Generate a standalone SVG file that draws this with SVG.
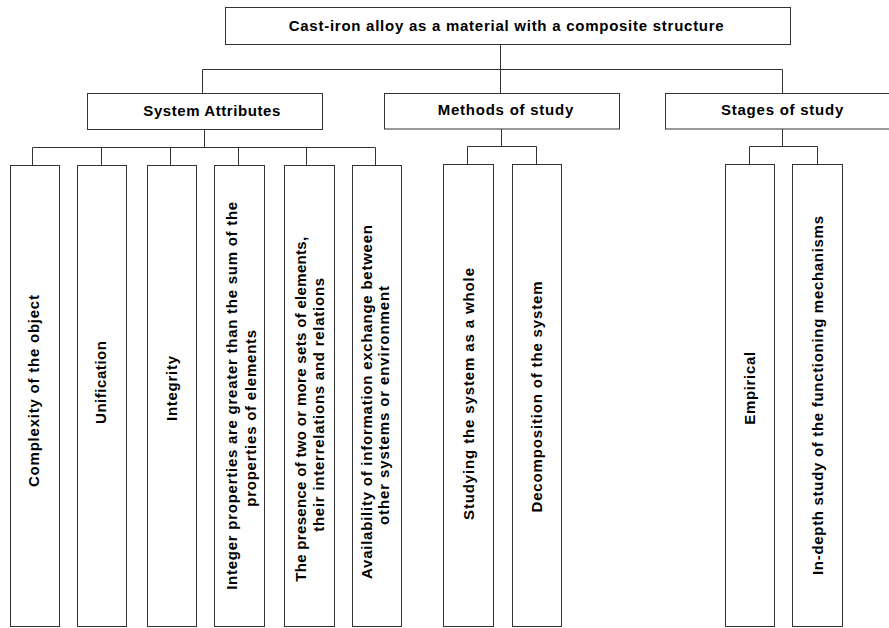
<svg xmlns="http://www.w3.org/2000/svg" width="889" height="628" viewBox="0 0 889 628">
<style>
rect.box{fill:#fff;stroke:#333;stroke-width:1}
#connectors path{fill:none;stroke:#333;stroke-width:1}
text{font-family:"Liberation Sans",Arial,sans-serif;font-weight:bold;font-size:15px;fill:#000}
.c{text-anchor:middle}
</style>
<rect width="889" height="628" fill="#fff"/>
<g id="connectors">
<path d="M500.5,44.5V93.5M202.5,93.5V69.5H782.5V93.5"/>
<path d="M204.5,129V147.5M32.5,165.5V147.5H375.5V165.5M101.5,147.5V165.5M170.5,147.5V165.5M238.5,147.5V165.5M306.5,147.5V165.5"/>
<path d="M501.5,129V146.5M467.5,164.5V146.5H536.5V164.5"/>
<path d="M782.5,129V146.5M749.5,164.5V146.5H817.5V164.5"/>
</g>
<g id="n-root"><rect class="box" x="225.5" y="7.5" width="565" height="37"/><text x="288.7" y="30.5" textLength="435" lengthAdjust="spacing">Cast-iron alloy as a material with a composite structure</text></g>
<g id="n-attr"><rect class="box" x="87.5" y="93.5" width="235" height="36"/><text x="143.3" y="115.5" textLength="137" lengthAdjust="spacing">System Attributes</text></g>
<g id="n-methods"><rect class="box" x="384.5" y="93.5" width="235" height="35.5"/><text x="437.7" y="115" textLength="135.6" lengthAdjust="spacing">Methods of study</text></g>
<g id="n-stages"><rect class="box" x="665.5" y="93.5" width="235" height="35.5"/><text x="721" y="115" textLength="122.3" lengthAdjust="spacing">Stages of study</text></g>

<g id="n-complexity"><rect class="box" x="10.5" y="165.5" width="49" height="461"/><text class="c" transform="translate(39,391) rotate(-90)" textLength="192" lengthAdjust="spacing">Complexity of the object</text></g>
<g id="n-unification"><rect class="box" x="77.5" y="165.5" width="49" height="461"/><text class="c" transform="translate(106,382.5) rotate(-90)" textLength="83" lengthAdjust="spacing">Unification</text></g>
<g id="n-integrity"><rect class="box" x="147.5" y="165.5" width="49" height="461"/><text class="c" transform="translate(176.5,388.5) rotate(-90)" textLength="65" lengthAdjust="spacing">Integrity</text></g>
<g id="n-integer"><rect class="box" x="214.5" y="165.5" width="50" height="461"/><text class="c" transform="translate(236.5,395.8) rotate(-90)" textLength="388" lengthAdjust="spacing">Integer properties are greater than the sum of the</text><text class="c" transform="translate(255.5,418.3) rotate(-90)" textLength="177" lengthAdjust="spacing">properties of elements</text></g>
<g id="n-presence"><rect class="box" x="284.5" y="165.5" width="50" height="461"/><text class="c" transform="translate(305.5,409.3) rotate(-90)" textLength="345" lengthAdjust="spacing">The presence of two or more sets of elements,</text><text class="c" transform="translate(324,404.8) rotate(-90)" textLength="254" lengthAdjust="spacing">their interrelations and relations</text></g>
<g id="n-availability"><rect class="box" x="352.5" y="165.5" width="49" height="461"/><text class="c" transform="translate(371.5,402) rotate(-90)" textLength="354" lengthAdjust="spacing">Availability of information exchange between</text><text class="c" transform="translate(389,405.5) rotate(-90)" textLength="239" lengthAdjust="spacing">other systems or environment</text></g>

<g id="n-whole"><rect class="box" x="443.5" y="164.5" width="50" height="462"/><text class="c" transform="translate(473.5,394) rotate(-90)" textLength="252" lengthAdjust="spacing">Studying the system as a whole</text></g>
<g id="n-decomp"><rect class="box" x="512.5" y="164.5" width="49" height="462"/><text class="c" transform="translate(541.5,397) rotate(-90)" textLength="231" lengthAdjust="spacing">Decomposition of the system</text></g>

<g id="n-empirical"><rect class="box" x="725.5" y="164.5" width="49" height="462"/><text class="c" transform="translate(754.5,388.3) rotate(-90)" textLength="73" lengthAdjust="spacing">Empirical</text></g>
<g id="n-indepth"><rect class="box" x="792.5" y="164.5" width="50" height="462"/><text class="c" transform="translate(822.5,395.5) rotate(-90)" textLength="359" lengthAdjust="spacing">In-depth study of the functioning mechanisms</text></g>
</svg>
